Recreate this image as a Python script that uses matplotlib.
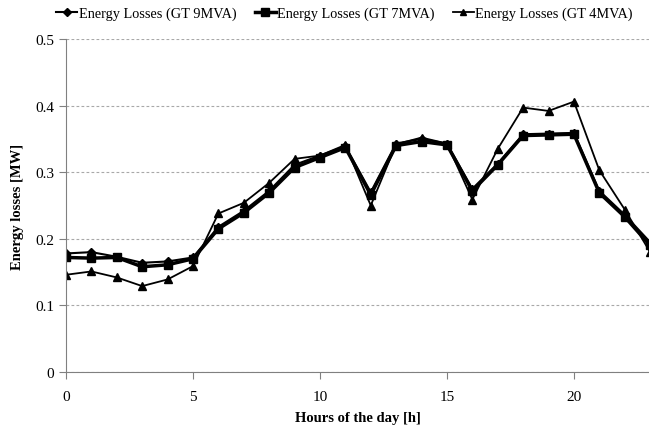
import matplotlib
matplotlib.use("Agg")
import matplotlib.pyplot as plt

# hourly energy losses
hours = list(range(24))
loss_9mva = [0.178, 0.180, 0.173, 0.164, 0.166, 0.172, 0.218, 0.242, 0.272, 0.311,
             0.325, 0.339, 0.270, 0.343, 0.350, 0.343, 0.275, 0.313, 0.357, 0.358,
             0.359, 0.272, 0.236, 0.195]
loss_7mva = [0.172, 0.171, 0.172, 0.158, 0.161, 0.170, 0.215, 0.239, 0.269, 0.307,
             0.322, 0.337, 0.266, 0.340, 0.346, 0.341, 0.272, 0.311, 0.355, 0.356,
             0.357, 0.269, 0.233, 0.190]
loss_4mva = [0.146, 0.151, 0.142, 0.129, 0.139, 0.159, 0.238, 0.254, 0.284, 0.320,
             0.325, 0.341, 0.250, 0.342, 0.352, 0.343, 0.259, 0.335, 0.397, 0.392,
             0.406, 0.303, 0.244, 0.180]
labels = ["Energy Losses (GT 9MVA)", "Energy Losses (GT 7MVA)", "Energy Losses (GT 4MVA)"]
x_ticks = [0, 5, 10, 15, 20]
y_ticks = [0, 0.1, 0.2, 0.3, 0.4, 0.5]

plt.rcParams["font.family"] = ["Liberation Serif", "DejaVu Serif"]

fig = plt.figure(figsize=(6.49, 4.39), dpi=100)
ax = fig.add_axes([0.1017, 0.1503, 0.9, 0.7586])

ax.plot(hours, loss_9mva, color="black", lw=1.5, marker="D", ms=4.5, label=labels[0])
ax.plot(hours, loss_7mva, color="black", lw=2.5, marker="s", ms=6, label=labels[1])
ax.plot(hours, loss_4mva, color="black", lw=1.3, marker="^", ms=5.5, label=labels[2])

ax.set_xlim(0, 23)
ax.set_ylim(0, 0.5)
ax.set_xticks(x_ticks)
ax.set_yticks(y_ticks)
ax.set_yticklabels(["0", "0.1", "0.2", "0.3", "0.4", "0.5"])
ax.tick_params(labelsize=11, color="#808080", length=5)
ax.tick_params(axis="x", pad=8)
ax.grid(axis="y", color="#a8a8a8", ls=(0, (2.5, 2)), lw=0.8)
ax.set_axisbelow(True)
for side in ("top", "right"):
    ax.spines[side].set_visible(False)
for side in ("left", "bottom"):
    ax.spines[side].set_color("#808080")

ax.set_xlabel("Hours of the day [h]", fontsize=10.5, fontweight="bold", labelpad=6)
ax.set_ylabel("Energy losses [MW]", fontsize=10.5, fontweight="bold", labelpad=8)

fig.legend(loc="center", bbox_to_anchor=(0.531, 0.968), ncol=3, frameon=False,
           fontsize=10.3, handlelength=1.45, handletextpad=0.1, columnspacing=1.3,
           markerscale=0.85)

fig.savefig("out.png", dpi=100)
